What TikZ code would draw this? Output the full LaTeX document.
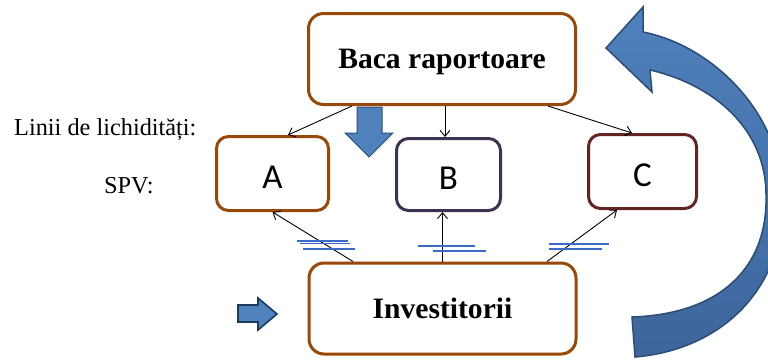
\documentclass[tikz,border=0pt]{standalone}
\usepackage{fontspec}
\setmainfont{Liberation Serif}
\newfontfamily\calib{Carlito}
\usetikzlibrary{arrows.meta,calc}
\definecolor{brownb}{HTML}{984807}
\definecolor{purpb}{HTML}{3F3151}
\definecolor{redb}{HTML}{632523}
\definecolor{bfill}{HTML}{4F81BD}
\definecolor{bfilldark}{HTML}{3D659B}
\definecolor{bdark}{HTML}{2C4D75}
\definecolor{navyb}{HTML}{1F3A60}
\definecolor{eqblue}{HTML}{3A6BC8}
\begin{document}
\begin{tikzpicture}[x=1pt,y=-1pt,
  box/.style={draw, line width=3pt, rounded corners=12pt, inner sep=0pt, fill=white},
  bigbox/.style={box, draw=brownb, minimum width=267pt, minimum height=91pt, rounded corners=15pt,
    font=\bfseries\fontsize{29.6}{32}\selectfont, text depth=0pt},
  smallbox/.style={box, font=\calib\fontsize{35}{40}\selectfont, text depth=0pt, text height=29pt},
  conn/.style={line width=0.9pt, -{Straight Barb[length=6pt,width=10pt]}},
  eqline/.style={eqblue, line width=1.2pt},
  lbl/.style={font=\fontsize{24.3}{28}\selectfont, inner sep=0pt, anchor=base west},
  bluearrow/.style={fill=bfill, draw=bdark, line width=1pt, line join=miter},
  bigarrow/.style={top color=bfill, bottom color=bfilldark, draw=bdark, line width=1.5pt, line join=miter}
]
\useasboundingbox (0,0) rectangle (768,360);
\clip (0,0) rectangle (768,360);

% big curved arrow
\filldraw[bigarrow] (606,48) -- (643,7) -- (643,32)
  .. controls (710,45) and (780,110) .. (783,195)
  .. controls (786,290) and (720,350) .. (635,357)
  -- (632,317)
  .. controls (720,314) and (768,268) .. (766,195)
  .. controls (766,130) and (715,85) .. (650,70)
  -- (652,92) -- cycle;

% boxes
\node[bigbox] (baca) at (442,59) {Baca raportoare};
\node[bigbox] (inv) at (442.5,308.5) {Investitorii};
\node[smallbox, draw=brownb, minimum width=112pt, minimum height=74pt] (A) at (272.5,173.5) {A};
\node[smallbox, draw=purpb, minimum width=104pt, minimum height=72pt] (B) at (448.5,174.5) {B};
\node[smallbox, draw=redb, minimum width=108pt, minimum height=74pt] (C) at (642.5,171.5) {C};

% labels
\node[lbl] (lin) at (14,135) {Linii de lichidități:};
\node[lbl] (spv) at (104,193) {SPV:};

% blue block arrows
\filldraw[bluearrow] (357,107) -- (382,107) -- (382,133) -- (393,133) -- (369,157) -- (345,133) -- (357,133) -- cycle;
\filldraw[bluearrow, draw=navyb, line width=1.6pt] (238,305) -- (258,305) -- (258,298) -- (277,314) -- (258,330) -- (258,322) -- (238,322) -- cycle;

% connectors
\draw[conn] ([xshift=-90pt]baca.south) -- ([xshift=15.5pt]A.north);
\draw[conn] ([xshift=3pt]baca.south) -- ([xshift=3pt]baca.south |- B.north);
\draw[conn] ([xshift=106pt]baca.south) -- ([xshift=-10.5pt]C.north);
\draw[conn] ([xshift=-89.5pt]inv.north) -- (A.south);
\draw[conn] (inv.north) -- (inv.north |- B.south);
\draw[conn] ([xshift=104.5pt]inv.north) -- ([xshift=-25.5pt]C.south);

% blue double lines
\draw[eqline] (297,241) -- (348,241);
\draw[eqline] (300,243.5) -- (350,243.5);
\draw[eqline] (303,249) -- (355,249);
\draw[eqline] (418,246) -- (475,246);
\draw[eqline] (433,251) -- (486,251);
\draw[eqline] (549,244) -- (609,244);
\draw[eqline] (549,249) -- (602,249);
\end{tikzpicture}
\end{document}
